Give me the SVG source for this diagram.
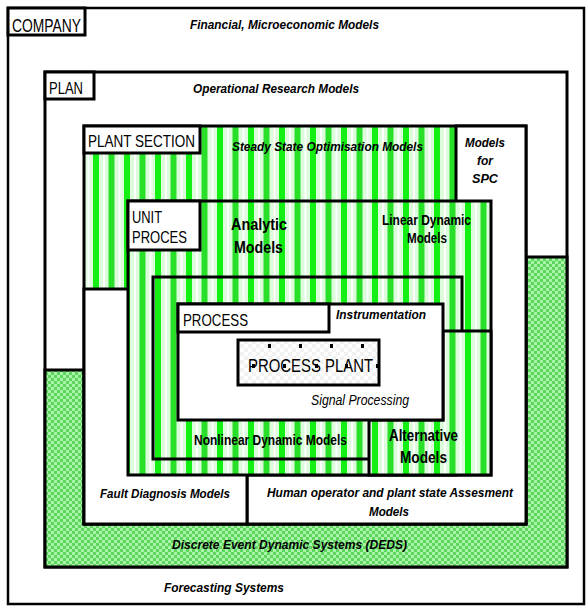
<svg xmlns="http://www.w3.org/2000/svg" width="588" height="606" viewBox="0 0 588 606">
<defs>
<pattern id="stripes" patternUnits="userSpaceOnUse" width="31" height="16">
<rect width="31" height="16" fill="#dcfcdc"/>
<rect x="0" width="6" height="16" fill="#14f014"/>
<rect x="10" width="2" height="16" fill="#ffffff"/>
<rect x="15.5" width="6" height="16" fill="#28e028"/>
<rect x="25.5" width="2" height="16" fill="#ffffff"/>
</pattern>
<pattern id="checker" patternUnits="userSpaceOnUse" width="6" height="6">
<rect width="6" height="6" fill="#5ed65e"/>
<rect width="3" height="3" fill="#a8f4a8"/>
<rect x="3" y="3" width="3" height="3" fill="#a8f4a8"/>
</pattern>
<pattern id="faint" patternUnits="userSpaceOnUse" width="8" height="8">
<rect width="8" height="8" fill="#ffffff"/>
<rect width="4" height="4" fill="#f2f2f2"/>
<rect x="4" y="4" width="4" height="4" fill="#f2f2f2"/>
</pattern>
</defs>
<style>
.box{stroke:#000;stroke-width:3;fill:#fff}
.str{stroke:#000;stroke-width:3;fill:url(#stripes)}
.lab{stroke:#000;stroke-width:3;fill:#fff}
text{font-family:"Liberation Sans",Arial,sans-serif;fill:#000}
.t{font-size:16.5px}
.bi{font-weight:bold;font-style:italic;font-size:12.5px}
.b{font-weight:bold}
.i{font-style:italic}
.dot{fill:#000}
</style>
<g id="company">
<rect x="8" y="8" width="576" height="596" fill="#fff" stroke="#000" stroke-width="2.5"/>
</g>
<g id="plan">
<rect x="45" y="72" width="522" height="495" class="box"/>
</g>
<g id="deds">
<polygon points="45,370 84,370 84,524 526,524 526,257 567,257 567,567 45,567" fill="url(#checker)" stroke="#000" stroke-width="3"/>
</g>
<g id="plant-section">
<rect x="84" y="126" width="442" height="398" class="str"/>
</g>
<g id="spc-human">
<polygon points="456,126 526,126 526,524 247,524 247,475 456,475" class="box"/>
</g>
<g id="fault">
<rect x="84" y="289" width="163" height="235" class="box"/>
</g>
<g id="unit-proces">
<rect x="128" y="201" width="363" height="274" class="str"/>
</g>
<g id="nonlinear">
<rect x="153" y="277" width="309" height="182" class="str"/>
</g>
<g id="alternative">
<polygon points="443,331 491,331 491,475 369,475 369,420 443,420" class="str"/>
</g>
<g id="process">
<rect x="178" y="304" width="265" height="116" class="box"/>
</g>
<g id="process-plant">
<rect x="238" y="340" width="141" height="45" stroke="#000" stroke-width="3" fill="url(#faint)"/>
<rect class="dot" x="268" y="344" width="3" height="4"/>
<rect class="dot" x="299" y="344" width="3" height="4"/>
<rect class="dot" x="330" y="344" width="3" height="4"/>
<rect class="dot" x="361" y="344" width="3" height="4"/>
<rect class="dot" x="252" y="364" width="3" height="4"/>
<rect class="dot" x="283" y="364" width="3" height="4"/>
<rect class="dot" x="315" y="364" width="3" height="4"/>
<rect class="dot" x="345" y="364" width="3" height="4"/>
<rect class="dot" x="376" y="364" width="3" height="4"/>
<text x="248" y="372" textLength="125" lengthAdjust="spacingAndGlyphs" style="font-size:18.5px">PROCESS PLANT</text>
</g>
<g id="labels">
<rect x="8" y="8" width="77" height="27" class="lab"/>
<text x="12" y="32" textLength="69" lengthAdjust="spacingAndGlyphs" style="font-size:19px">COMPANY</text>
<rect x="45" y="72" width="49" height="27" class="lab"/>
<text class="t" x="49" y="94" textLength="34" lengthAdjust="spacingAndGlyphs">PLAN</text>
<rect x="84" y="126" width="116" height="27" class="lab"/>
<text class="t" x="88" y="147" textLength="107" lengthAdjust="spacingAndGlyphs">PLANT SECTION</text>
<rect x="128" y="201" width="72" height="49" class="lab"/>
<text class="t" x="132" y="223" textLength="30" lengthAdjust="spacingAndGlyphs">UNIT</text>
<text class="t" x="132" y="243" textLength="55" lengthAdjust="spacingAndGlyphs">PROCES</text>
<rect x="178" y="304" width="151" height="28" class="lab"/>
<text class="t" x="183" y="326" textLength="65" lengthAdjust="spacingAndGlyphs">PROCESS</text>
</g>
<g id="texts">
<text class="bi" x="190" y="29" textLength="189" lengthAdjust="spacingAndGlyphs" style="font-size:12px">Financial, Microeconomic Models</text>
<text class="bi" x="193" y="93" textLength="166" lengthAdjust="spacingAndGlyphs">Operational Research Models</text>
<text class="bi" x="232" y="151" textLength="191" lengthAdjust="spacingAndGlyphs">Steady State Optimisation Models</text>
<text class="bi" x="465" y="147" textLength="40" lengthAdjust="spacingAndGlyphs" style="font-size:13px">Models</text>
<text class="bi" x="477" y="165" textLength="16" lengthAdjust="spacingAndGlyphs" style="font-size:13px">for</text>
<text class="bi" x="472" y="183" textLength="26" lengthAdjust="spacingAndGlyphs" style="font-size:13px">SPC</text>
<text class="b" x="231" y="230" textLength="56" lengthAdjust="spacingAndGlyphs" style="font-size:17px">Analytic</text>
<text class="b" x="234" y="253" textLength="49" lengthAdjust="spacingAndGlyphs" style="font-size:17px">Models</text>
<text class="b" x="382" y="225" textLength="89" lengthAdjust="spacingAndGlyphs" style="font-size:14.5px">Linear Dynamic</text>
<text class="b" x="407" y="243" textLength="40" lengthAdjust="spacingAndGlyphs" style="font-size:14.5px">Models</text>
<text class="bi" x="336" y="319" textLength="90" lengthAdjust="spacingAndGlyphs" style="font-size:13px">Instrumentation</text>
<text class="i" x="311" y="405" textLength="98" lengthAdjust="spacingAndGlyphs" style="font-size:14px">Signal Processing</text>
<text class="b" x="194" y="445" textLength="153" lengthAdjust="spacingAndGlyphs" style="font-size:14.5px">Nonlinear Dynamic Models</text>
<text class="b" x="389" y="441" textLength="69" lengthAdjust="spacingAndGlyphs" style="font-size:16px">Alternative</text>
<text class="b" x="400" y="463" textLength="47" lengthAdjust="spacingAndGlyphs" style="font-size:16px">Models</text>
<text class="bi" x="100" y="498" textLength="130" lengthAdjust="spacingAndGlyphs" style="font-size:13.5px">Fault Diagnosis Models</text>
<text class="bi" x="267" y="497" textLength="246" lengthAdjust="spacingAndGlyphs" style="font-size:13.5px">Human operator and plant state Assesment</text>
<text class="bi" x="369" y="516" textLength="40" lengthAdjust="spacingAndGlyphs" style="font-size:13.5px">Models</text>
<text class="bi" x="172" y="549" textLength="235" lengthAdjust="spacingAndGlyphs" style="font-size:13px">Discrete Event Dynamic Systems (DEDS)</text>
<text class="bi" x="164" y="592" textLength="120" lengthAdjust="spacingAndGlyphs" style="font-size:13px">Forecasting Systems</text>
</g>
</svg>
